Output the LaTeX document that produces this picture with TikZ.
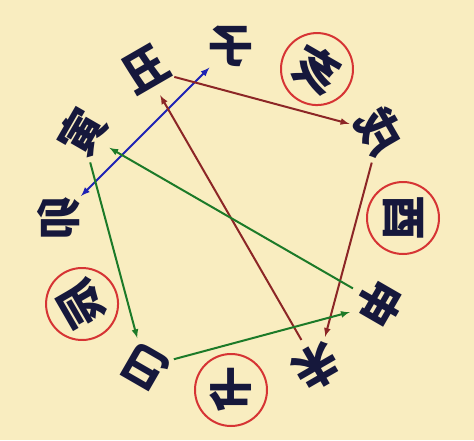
\documentclass[tikz,border=0pt]{standalone}
\usepackage{graphicx}
\usepackage{fontspec}
\newfontfamily\cjk{Noto Sans CJK SC}
\usepackage{tikz}
\usetikzlibrary{positioning,arrows}

\definecolor{paper}{RGB}{249,237,192}
\definecolor{ink}{RGB}{22,24,60}
\definecolor{ring}{RGB}{214,52,52}
\definecolor{rust}{RGB}{140,38,38}
\definecolor{leaf}{RGB}{28,122,40}
\definecolor{sea}{RGB}{30,34,180}

\begin{document}
\begin{tikzpicture}[
                x=1pt, y=1pt,
                branch/.style={circle,minimum size=58pt,inner sep=0pt,text=ink,font=\cjk\bfseries\fontsize{45}{45}\selectfont},
                ringed/.style={branch,draw=ring,line width=2pt,minimum size=72pt},
                link/.style={-latex,line width=2pt}
            ]
                \fill[paper] (-231,-222) rectangle (243,218);
                \foreach \name/\ch/\ang/\sty in {zi/子/90/branch, chou/丑/120/branch, yin/寅/150/branch,
                    mao/卯/180/branch, chen/辰/210/ringed, si/巳/240/branch, wu/午/270/ringed,
                    wei/未/300/branch, shen/申/330/branch, you/酉/0/ringed, xu/戌/30/branch, hai/亥/60/ringed}
                    {
                    \node[\sty, rotate=\ang-90] (\name) at (\ang:172) {\scalebox{-1}[1]{\ch}};
                }
                \draw[link, latex-latex, sea] (zi) -- (mao);
                \draw[link, rust] (chou) -- (xu);
                \draw[link, rust] (xu) -- (wei);
                \draw[link, rust] (wei) -- (chou);
                \draw[link, leaf] (yin) -- (si);
                \draw[link, leaf] (si) -- (shen);
                \draw[link, leaf] (shen) -- (yin);
            \end{tikzpicture}
\end{document}
